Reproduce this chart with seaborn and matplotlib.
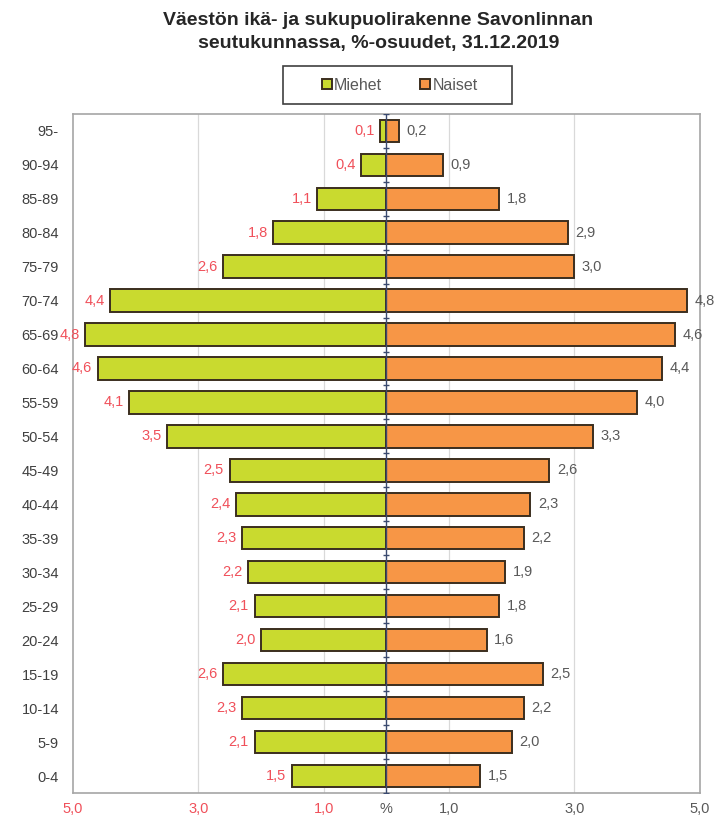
import numpy as np
import pandas as pd
import matplotlib.pyplot as plt
import seaborn as sns
from matplotlib.patches import Rectangle

ages = ['95-', '90-94', '85-89', '80-84', '75-79', '70-74', '65-69', '60-64',
        '55-59', '50-54', '45-49', '40-44', '35-39', '30-34', '25-29', '20-24',
        '15-19', '10-14', '5-9', '0-4']
miehet = [0.1, 0.4, 1.1, 1.8, 2.6, 4.4, 4.8, 4.6, 4.1, 3.5,
          2.5, 2.4, 2.3, 2.2, 2.1, 2.0, 2.6, 2.3, 2.1, 1.5]
naiset = [0.2, 0.9, 1.8, 2.9, 3.0, 4.8, 4.6, 4.4, 4.0, 3.3,
          2.6, 2.3, 2.2, 1.9, 1.8, 1.6, 2.5, 2.2, 2.0, 1.5]
xticks = [-5, -3, -1, 0, 1, 3, 5]
xticklabels = ['5,0', '3,0', '1,0', '%', '1,0', '3,0', '5,0']

green = '#C9DA2F'
orange = '#F79646'
edge = '#3B2E1E'
red_txt = '#F0505A'
gray_txt = '#595959'

df = pd.DataFrame({'ika': ages, 'Miehet': -np.array(miehet), 'Naiset': naiset})

sns.set_style('white')
plt.rcParams['font.family'] = ['Liberation Sans', 'DejaVu Sans']

fig = plt.figure(figsize=(7.14, 8.23), dpi=100)
ax = fig.add_axes([0.102, 0.036, 0.878, 0.826])

sns.barplot(data=df, y='ika', x='Miehet', orient='h', color=green, saturation=1,
            edgecolor=edge, linewidth=1.4, width=0.65, ax=ax, label='Miehet')
sns.barplot(data=df, y='ika', x='Naiset', orient='h', color=orange, saturation=1,
            edgecolor=edge, linewidth=1.4, width=0.65, ax=ax, label='Naiset')

for i, (m, n) in enumerate(zip(miehet, naiset)):
    ax.text(-m - 0.09, i, f'{m:.1f}'.replace('.', ','), ha='right', va='center',
            color=red_txt, fontsize=10.5)
    ax.text(n + 0.12, i, f'{n:.1f}'.replace('.', ','), ha='left', va='center',
            color=gray_txt, fontsize=10.5)

ax.set_xlim(-5, 5)
ax.set_ylim(len(ages) - 0.5, -0.5)
for g in [-3, -1, 1, 3]:
    ax.axvline(g, color='#D9D9D9', lw=0.9, zorder=0)
ax.axvline(0, color='#3A4A70', lw=1.0, zorder=3)
ax.plot(np.zeros(len(ages) + 1), np.arange(len(ages) + 1) - 0.5, marker='_',
        ms=4, color='#3A4A70', lw=0, zorder=3)

ax.set_xticks(xticks)
ax.set_xticklabels(xticklabels)
for lbl, col in zip(ax.get_xticklabels(), [red_txt] * 3 + [gray_txt] * 4):
    lbl.set_color(col)
ax.tick_params(axis='x', length=0, labelsize=10.5, pad=6)
ax.tick_params(axis='y', length=0, labelsize=10.5, labelcolor='#404040', pad=10)
ax.set_xlabel('')
ax.set_ylabel('')
for s in ax.spines.values():
    s.set_color('#A6A6A6')
    s.set_linewidth(1.2)

# legend without its own frame, box drawn separately to get the wide look
ax.legend(loc='center', bbox_to_anchor=(0.5215, 1.042), ncol=2,
          frameon=False, fontsize=11.5, handlelength=0.6, handleheight=0.6,
          handletextpad=0.15, columnspacing=2.4, labelcolor=gray_txt)
fig.patches.append(Rectangle((283 / 714, 1 - 104 / 823), 229 / 714, 38 / 823,
                             transform=fig.transFigure, fill=False,
                             edgecolor='#404040', lw=1.2))

fig.text(0.53, 0.985, 'Väestön ikä- ja sukupuolirakenne Savonlinnan\n'
         'seutukunnassa, %-osuudet, 31.12.2019', ha='center', va='top',
         fontsize=14, fontweight='bold', color='#262626', linespacing=1.4)

fig.savefig('out.png', dpi=100)
